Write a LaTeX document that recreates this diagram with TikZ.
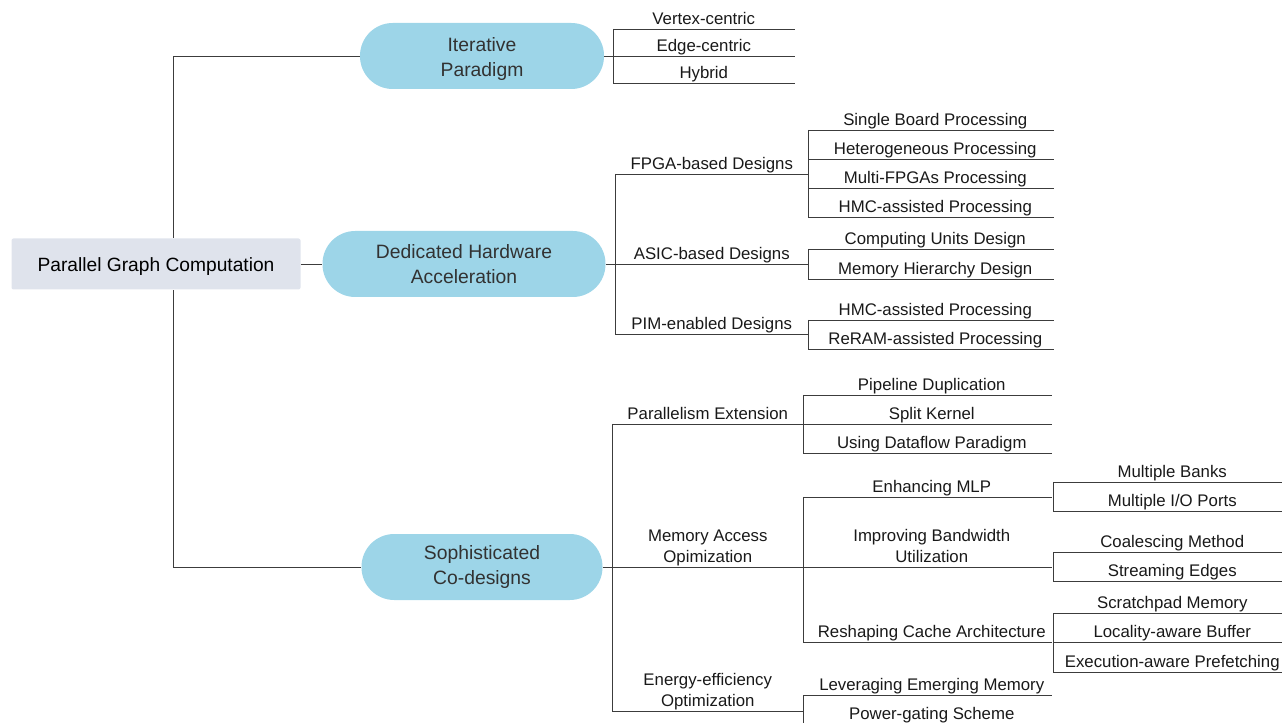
\documentclass[tikz,border=0pt]{standalone}
\usepackage{fontspec}
\setmainfont{Liberation Sans}
\usetikzlibrary{calc}
\definecolor{pillblue}{RGB}{157,213,232}
\definecolor{rootgray}{RGB}{223,227,236}
\definecolor{linegray}{RGB}{60,60,60}
\definecolor{textgray}{RGB}{50,50,50}
\tikzset{
	branch/.style={line width=0.6pt, color=linegray},
	rootbox/.style={fill=rootgray, rounded corners=1.5pt, minimum width=216.75pt, minimum height=38.25pt, text height=15pt, text depth=3pt, text=black, font=\fontsize{14.4}{18}\selectfont},
	pill/.style={fill=pillblue, rounded corners=24.5pt, minimum height=49.5pt, align=center, text=textgray, font=\fontsize{14.5}{18.75}\selectfont},
	under/.style={anchor=south west, inner xsep=0pt, inner ysep=0.8pt, text=black!90, font=\fontsize{12.6}{15.75}\selectfont},
	leaf/.style={under, text depth=0.22em},
	twoleaf/.style={under, align=center},
	deep/.style={execute at begin node={\hspace*{6.75pt}}},
	wa/.style={minimum width=135.75pt},
	wb/.style={minimum width=144.75pt},
	wc/.style={minimum width=183.75pt, deep},
	wd/.style={minimum width=143.25pt},
	we/.style={minimum width=186pt, deep},
	wf/.style={minimum width=171.75pt, deep}
}

\begin{document}
\begin{tikzpicture}[x=0.75pt, y=-0.75pt]
			%%%%% START %%%%%
			\useasboundingbox (0, 0) rectangle (1282, 723);
			\clip (0, 0) rectangle (1282, 723);
			
			\node[rootbox] (root) at (156, 264) {Parallel Graph Computation};
			\coordinate (trunk) at (173, 264);
			
			\node[pill, minimum width=183pt] (it) at (482, 56) {\rule{0pt}{14.5pt}Iterative\\Paradigm};
			\node[pill, minimum width=212.25pt] (ded) at (464, 264) {Dedicated Hardware\\Acceleration};
			\node[pill, minimum width=180.75pt] (soph) at (482, 567) {Sophisticated\\Co-designs};
			
			%% iterative paradigm
			\node[leaf, wa] (v) at (613, 29) {Vertex-centric};
			\node[leaf, wa] (e) at (613, 56) {Edge-centric};
			\node[leaf, wa] (h) at (613, 83) {Hybrid};
			
			%% dedicated hardware
			\node[leaf, wb] (fpga) at (615, 174) {FPGA-based Designs};
			\node[leaf, wb] (asic) at (615, 264) {ASIC-based Designs};
			\node[leaf, wb] (pim) at (615, 334) {PIM-enabled Designs};
			
			\node[leaf, wc] (f1) at (808, 130) {Single Board Processing};
			\node[leaf, wc] (f2) at (808, 159) {Heterogeneous Processing};
			\node[leaf, wc] (f3) at (808, 188) {Multi-FPGAs Processing};
			\node[leaf, wc] (f4) at (808, 217) {HMC-assisted Processing};
			
			\node[leaf, wc] (a1) at (808, 249) {Computing Units Design};
			\node[leaf, wc] (a2) at (808, 279) {Memory Hierarchy Design};
			
			\node[leaf, wc] (p1) at (808, 320) {HMC-assisted Processing};
			\node[leaf, wc] (p2) at (808, 349) {ReRAM-assisted Processing};
			
			%% sophisticated co-designs
			\node[leaf, wd] (par) at (612, 424) {Parallelism Extension};
			\node[twoleaf, wd] (mem) at (612, 567) {Memory Access\\Opimization};
			\node[twoleaf, wd] (eng) at (612, 711) {Energy-efficiency\\Optimization};
			
			\node[leaf, we] (par1) at (803, 395) {Pipeline Duplication};
			\node[leaf, we] (par2) at (803, 424) {Split Kernel};
			\node[leaf, we] (par3) at (803, 453) {Using Dataflow Paradigm};
			
			\node[leaf, we] (mlp) at (803, 497) {Enhancing MLP};
			\node[twoleaf, we, inner ysep=3pt] (bw) at (803, 567) {Improving Bandwidth\\Utilization};
			\node[leaf, we] (cache) at (803, 642) {Reshaping Cache Architecture};
			
			\node[leaf, wf] (mlp1) at (1053, 482) {Multiple Banks};
			\node[leaf, wf] (mlp2) at (1053, 511) {Multiple I/O Ports};
			
			\node[leaf, wf] (bw1) at (1053, 552) {Coalescing Method};
			\node[leaf, wf] (bw2) at (1053, 581) {Streaming Edges};
			
			\node[leaf, wf] (ca1) at (1053, 613) {Scratchpad Memory};
			\node[leaf, wf] (ca2) at (1053, 642) {Locality-aware Buffer};
			\node[leaf, wf] (ca3) at (1053, 672) {Execution-aware Prefetching};
			
			\node[leaf, we] (en1) at (803, 695) {Leveraging Emerging Memory};
			\node[leaf, we] (en2) at (803, 724) {Power-gating Scheme};
			
			%% underlines
			\foreach \n in {v,e,h,fpga,asic,pim,f1,f2,f3,f4,a1,a2,p1,p2,par,mem,eng,par1,par2,par3,mlp,bw,cache,mlp1,mlp2,bw1,bw2,ca1,ca2,ca3,en1,en2}
				\draw[branch] (\n.south west) -- (\n.south east);
			
			%% connectors
			\draw[branch] (it.west) -| (trunk |- root.north);
			\draw[branch] (soph.west) -| (trunk |- root.south);
			\draw[branch] (root.east) -- (ded.west);
			
			\draw[branch] (it.east) -- (it.east -| v.south west);
			\draw[branch] (v.south west) -- (h.south west);
			
			\draw[branch] (ded.east) -- (ded.east -| fpga.south west);
			\draw[branch] (fpga.south west) -- (pim.south west);
			\draw[branch] (f1.south west) -- (f4.south west);
			\draw[branch] (a1.south west) -- (a2.south west);
			\draw[branch] (p1.south west) -- (p2.south west);
			
			\draw[branch] (soph.east) -- (soph.east -| par.south west);
			\draw[branch] (par.south west) -- (eng.south west);
			\draw[branch] (par1.south west) -- (par3.south west);
			\draw[branch] (mlp.south west) -- (cache.south west);
			\draw[branch] (mlp1.south west) -- (mlp2.south west);
			\draw[branch] (bw1.south west) -- (bw2.south west);
			\draw[branch] (ca1.south west) -- (ca3.south west);
			\draw[branch] (en1.south west) -- (en2.south west);
			
			%%%%% END %%%%%
		\end{tikzpicture}
\end{document}
